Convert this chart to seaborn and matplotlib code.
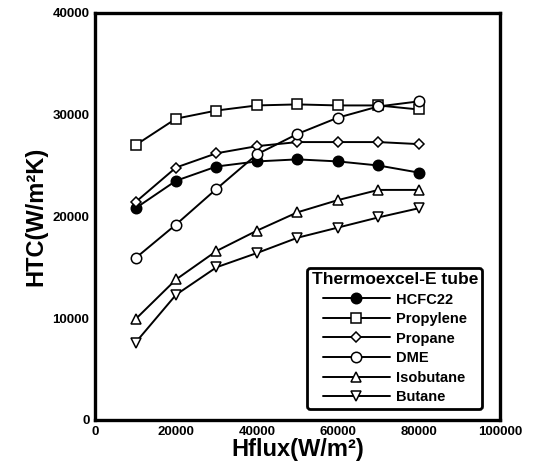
import numpy as np
import pandas as pd
import seaborn as sns
import matplotlib.pyplot as plt
from matplotlib.ticker import MultipleLocator

# Data
hflux = [10000, 20000, 30000, 40000, 50000, 60000, 70000, 80000]
hcfc22 = [20800, 23500, 24900, 25400, 25600, 25400, 25000, 24300]
propylene = [27000, 29600, 30400, 30900, 31000, 30900, 30900, 30500]
propane = [21400, 24800, 26200, 26900, 27300, 27300, 27300, 27100]
dme = [15900, 19200, 22700, 26100, 28100, 29700, 30800, 31300]
isobutane = [9900, 13800, 16600, 18600, 20400, 21600, 22600, 22600]
butane = [7600, 12300, 15000, 16400, 17900, 18900, 19900, 20800]

names = ["HCFC22", "Propylene", "Propane", "DME", "Isobutane", "Butane"]
series = [hcfc22, propylene, propane, dme, isobutane, butane]
markers = ["o", "s", "D", "o", "^", "v"]
sizes = [7.5, 7.5, 5.5, 7.5, 7, 7]
faces = ["black", "white", "white", "white", "white", "white"]

sns.set_style("white")
plt.rcParams["font.family"] = ["Liberation Sans", "DejaVu Sans"]
plt.rcParams["font.weight"] = "bold"
plt.rcParams["text.color"] = "black"
plt.rcParams["axes.labelcolor"] = "black"
plt.rcParams["xtick.color"] = "black"
plt.rcParams["ytick.color"] = "black"

fig = plt.figure(figsize=(5.34, 4.74), dpi=100)
ax = fig.add_axes([0.178, 0.114, 0.758, 0.859])

for name, vals, m, ms, fc in zip(names, series, markers, sizes, faces):
    df = pd.DataFrame({"Hflux": hflux, "HTC": vals})
    sns.lineplot(data=df, x="Hflux", y="HTC", ax=ax, color="black", lw=1.4,
                 marker=m, markersize=ms, markerfacecolor=fc,
                 markeredgecolor="black", markeredgewidth=1.1, label=name)

ax.set_xlim(0, 100000)
ax.set_ylim(0, 40000)
ax.xaxis.set_major_locator(MultipleLocator(20000))
ax.xaxis.set_minor_locator(MultipleLocator(10000))
ax.yaxis.set_major_locator(MultipleLocator(10000))
ax.yaxis.set_minor_locator(MultipleLocator(5000))
ax.tick_params(which="both", direction="in", length=6, width=2.2, top=False, right=False)
ax.tick_params(which="major", labelsize=9.5, pad=4)
for lbl in ax.get_xticklabels() + ax.get_yticklabels():
    lbl.set_fontweight("bold")
for sp in ax.spines.values():
    sp.set_linewidth(2.4)
    sp.set_color("black")

ax.set_xlabel("Hflux(W/m²)", fontsize=17, fontweight="heavy", labelpad=0)
ax.set_ylabel("HTC(W/m²K)", fontsize=17, fontweight="heavy", labelpad=4)

leg = ax.legend(title="Thermoexcel-E tube", loc="lower right",
                bbox_to_anchor=(0.975, 0.01), fontsize=10.5, handlelength=4.6,
                frameon=True, fancybox=True, edgecolor="black",
                borderpad=0.3, labelspacing=0.38, handletextpad=0.4)
leg.get_title().set_fontweight("bold")
leg.get_title().set_fontsize(12.5)
leg.get_frame().set_linewidth(2)
leg.get_frame().set_alpha(1)
for t in leg.get_texts():
    t.set_fontweight("bold")

plt.savefig("out.png", dpi=100)
